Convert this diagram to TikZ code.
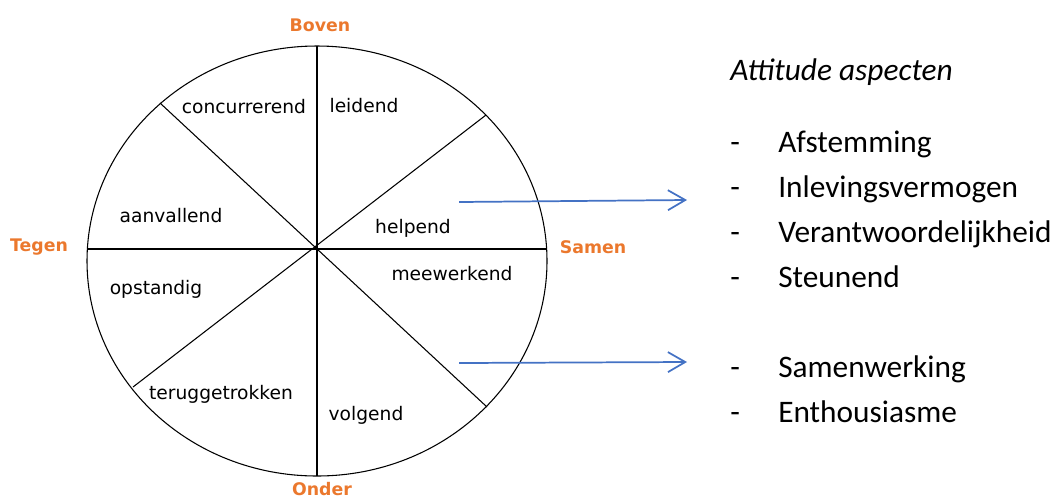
\documentclass[tikz,border=0pt]{standalone}
\usepackage{fontspec}
\setmainfont{Carlito}
\newfontfamily\wheelfont{DejaVu Sans}
\usetikzlibrary{arrows.meta}
\definecolor{poleorange}{RGB}{235,120,45}
\definecolor{arrowblue}{RGB}{68,114,196}

\begin{document}
\begin{tikzpicture}[
  x=0.75pt, y=-0.75pt,
  sector/.style={font=\wheelfont\fontsize{14}{16}\selectfont, inner sep=0pt},
  pole/.style={font=\wheelfont\bfseries\fontsize{13}{15}\selectfont, text=poleorange, inner sep=0pt},
  spoke/.style={line width=0.8pt},
  arrow/.style={-{Straight Barb[length=13pt,width=15pt]}, arrowblue, line width=1.3pt},
  item/.style={font=\fontsize{23.5}{28}\selectfont, anchor=base west, inner sep=0pt}
]
\useasboundingbox (0,0) rectangle (1062,501);

% Wheel
\draw[spoke] (317,261) ellipse [x radius=172.5pt, y radius=161.25pt];
\coordinate (top) at (317,46);
\coordinate (bottom) at (317,476);
\coordinate (left) at (87,249);
\coordinate (right) at (547,249);
\coordinate (ul) at (160,103);
\coordinate (lr) at (487,407);
\coordinate (ur) at (486,115);
\coordinate (ll) at (133,387);
\draw[spoke] (top) -- (bottom);
\draw[spoke] (left) -- (right);
\draw[spoke] (ul) -- (lr);
\draw[spoke] (ur) -- (ll);

% Sectors
\node[sector] (concurrerend) at (244,107) {concurrerend};
\node[sector] (leidend) at (364,106) {leidend};
\node[sector] (aanvallend) at (171,216) {aanvallend};
\node[sector] (helpend) at (413,228) {helpend};
\node[sector] (opstandig) at (156,289) {opstandig};
\node[sector] (meewerkend) at (452,274) {meewerkend};
\node[sector] (teruggetrokken) at (221,394) {teruggetrokken};
\node[sector] (volgend) at (366,415) {volgend};

% Poles
\node[pole] (boven) at (320,25) {Boven};
\node[pole] (tegen) at (39,247) {Tegen};
\node[pole] (samen) at (593,247) {Samen};
\node[pole] (onder) at (322,489) {Onder};

% Attitude list
\node[item, font=\itshape\fontsize{23.5}{28}\selectfont] (title) at (730,80) {Attitude aspecten};
\foreach \name/\word/\y in {afst/Afstemming/152, inlev/Inlevingsvermogen/197,
    veran/Verantwoordelijkheid/242, steun/Steunend/287,
    samenw/Samenwerking/377, enth/Enthousiasme/422} {
  \node[item] (dash-\name) at (730,\y) {-};
  \node[item] (\name) at (778,\y) {\word};
}

% Arrows
\coordinate (helpTail) at (459,202);
\coordinate (helpHead) at (687,200);
\coordinate (meeTail) at (459,363);
\coordinate (meeHead) at (687,362);
\draw[arrow] (helpTail) -- (helpHead);
\draw[arrow] (meeTail) -- (meeHead);

\end{tikzpicture}
\end{document}
